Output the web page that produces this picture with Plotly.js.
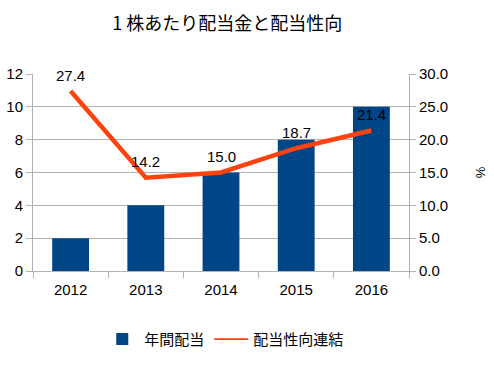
<!DOCTYPE html>
<html>
<head>
<meta charset="utf-8">
<script src="https://cdn.plot.ly/plotly-3.0.1.min.js"></script>
<style>html,body{margin:0;padding:0;background:#fff}#chart{width:494px;height:367px}</style>
</head>
<body>
<div id="chart"></div>
<script>
const years = ['2012', '2013', '2014', '2015', '2016'];
const dividend = [2, 4, 6, 8, 10];
const payoutRatio = [27.4, 14.2, 15.0, 18.7, 21.4];
const payoutLabels = ['27.4', '14.2', '15.0', '18.7', '21.4'];

const fontLat = 'Liberation Sans, Arial, sans-serif';
const fontJp = 'Noto Sans CJK JP, sans-serif';

const traces = [
  {
    type: 'bar', x: years, y: dividend, name: '年間配当',
    marker: {color: '#004586'}, width: 0.49, yaxis: 'y'
  },
  {
    type: 'scatter', mode: 'lines', x: years, y: payoutRatio, name: '配当性向連結',
    line: {color: '#ff420e', width: 4.5}, yaxis: 'y2', showlegend: false
  },
  {
    type: 'scatter', mode: 'lines', x: [years[0]], y: [null], name: '配当性向連結',
    line: {color: '#ff420e', width: 1.8}, yaxis: 'y2', showlegend: true, hoverinfo: 'skip'
  }
];

const annotations = years.map((yr, i) => ({
  x: i, y: payoutRatio[i], xref: 'x', yref: 'y2', text: payoutLabels[i],
  showarrow: false, yshift: 16, font: {family: fontLat, size: 15, color: '#000'}
}));

const layout = {
  width: 494, height: 367,
  margin: {l: 33, r: 85, t: 74, b: 95},
  paper_bgcolor: '#fff', plot_bgcolor: '#fff',
  showlegend: true,
  annotations: annotations,
  title: {text: '1 株あたり配当金と配当性向', font: {family: fontJp, size: 18, color: '#000'},
          x: 0.46, xanchor: 'center', y: 0.935, yanchor: 'middle'},
  xaxis: {
    type: 'category', categoryorder: 'array', categoryarray: years,
    range: [-0.5, years.length - 0.5],
    showgrid: false, showline: true, linecolor: '#b3b3b3',
    ticks: 'outside', tickson: 'boundaries', ticklen: 6, tickcolor: '#b3b3b3',
    ticklabelstandoff: 5,
    tickfont: {family: fontLat, size: 15, color: '#000'}
  },
  yaxis: {
    range: [0, 12], dtick: 2, showgrid: true, gridcolor: '#b3b3b3', zeroline: false,
    showline: true, linecolor: '#b3b3b3', ticks: 'outside', ticklen: 6, tickcolor: '#b3b3b3',
    tickfont: {family: fontLat, size: 15, color: '#000'}
  },
  yaxis2: {
    overlaying: 'y', side: 'right', range: [0, 30], dtick: 5, tickformat: '.1f',
    showgrid: false, zeroline: false, showline: true, linecolor: '#b3b3b3',
    ticks: 'outside', ticklen: 6, tickcolor: '#b3b3b3',
    tickfont: {family: fontLat, size: 15, color: '#000'},
    title: {text: '%', font: {family: fontLat, size: 13, color: '#000'}, standoff: 28}
  },
  legend: {
    orientation: 'h', x: 0.51, xanchor: 'center', y: -0.34, yanchor: 'middle',
    font: {family: fontJp, size: 15, color: '#000'}, itemwidth: 34
  },
  bargap: 0.5
};

Plotly.newPlot('chart', traces, layout, {displayModeBar: false, staticPlot: true});
</script>
</body>
</html>
